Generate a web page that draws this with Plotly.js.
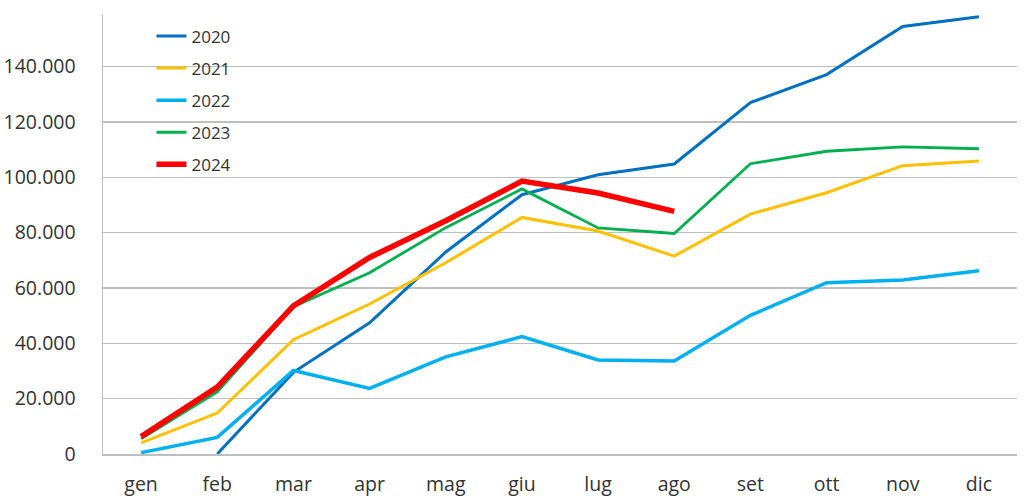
<!DOCTYPE html>
<html><head><meta charset="utf-8">
<script src="https://cdn.plot.ly/plotly-3.0.1.min.js"></script>
<style>body{margin:0;background:#fff}#chart{width:1024px;height:500px}</style>
</head><body><div id="chart"></div>
<script>
const months = ["gen","feb","mar","apr","mag","giu","lug","ago","set","ott","nov","dic"];
const y2020 = [null, 0, 29500, 47400, 73000, 93700, 100900, 104800, 127000, 137100, 154500, 158000];
const y2021 = [4000, 14800, 41300, 54200, 69100, 85500, 80600, 71500, 86700, 94400, 104200, 105900];
const y2022 = [500, 6000, 30200, 23700, 35100, 42400, 34000, 33600, 50100, 61900, 62900, 66200];
const y2023 = [5500, 22400, 53200, 65500, 81800, 95800, 81700, 79700, 104900, 109400, 111000, 110300];
const y2024 = [6300, 24200, 53500, 71000, 84300, 98600, 94300, 87700];
const seriesNames = ["2020","2021","2022","2023","2024"];
const yTicks = [0,20000,40000,60000,80000,100000,120000,140000];
const yTickText = ["0","20.000","40.000","60.000","80.000","100.000","120.000","140.000"];

const colors = ["#0070C0","#FFC000","#00B0F0","#00B050","#FF0000"];
const widths = [3, 3, 3.5, 2.8, 5.5];
const data = [y2020,y2021,y2022,y2023,y2024].map((ys,i)=>({
  type:"scatter", mode:"lines", name:seriesNames[i], legendgroup:seriesNames[i],
  x: months.slice(0, ys.length), y: ys,
  line:{color:colors[i], width:widths[i]}, connectgaps:false
}));

const layout = {
  width:1024, height:500,
  margin:{l:103, r:7, t:14, b:46},
  paper_bgcolor:"#fff", plot_bgcolor:"#fff",
  font:{family:"'Open Sans', sans-serif", size:19.5, color:"#333333"},
  showlegend:true,
  legend:{x:0.053, y:0.99, xanchor:"left", yanchor:"top", bgcolor:"rgba(0,0,0,0)",
    font:{size:17, color:"#333333"}, tracegroupgap:7, traceorder:"grouped"},
  xaxis:{type:"category", categoryorder:"array", categoryarray:months,
    range:[-0.5, 11.5], showline:true, linecolor:"#BFBFBF", linewidth:1.5,
    showgrid:false, zeroline:false, ticks:"", ticklabelstandoff:12, fixedrange:true},
  yaxis:{range:[0,159000], tickvals:yTicks, ticktext:yTickText,
    showline:true, linecolor:"#BFBFBF", linewidth:1.5,
    showgrid:true, gridcolor:"#BFBFBF", gridwidth:1.2, zeroline:false,
    ticks:"", ticklabelstandoff:22, fixedrange:true}
};
Plotly.newPlot("chart", data, layout, {displayModeBar:false, staticPlot:true});
</script></body></html>
